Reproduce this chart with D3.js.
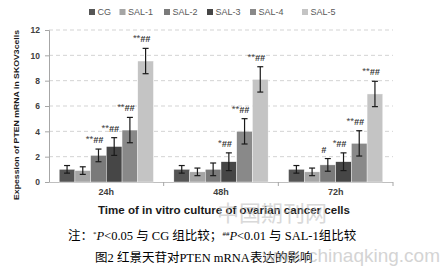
<!DOCTYPE html>
<html><head><meta charset="utf-8">
<script src="https://cdn.jsdelivr.net/npm/d3@7"></script>
<style>
html,body{margin:0;padding:0;background:#fff;}
svg{display:block;}
</style></head>
<body>
<svg id="c" width="440" height="268"></svg>
<script>
const categories = ["24h", "48h", "72h"];
const seriesNames = ["CG", "SAL-1", "SAL-2", "SAL-3", "SAL-4", "SAL-5"];
const valCG   = [1.0, 1.0, 1.0];
const valSAL1 = [0.9, 0.8, 0.8];
const valSAL2 = [2.1, 1.0, 1.35];
const valSAL3 = [2.8, 1.6, 1.6];
const valSAL4 = [4.1, 4.0, 3.05];
const valSAL5 = [9.55, 8.1, 6.95];
const errCG   = [0.3, 0.3, 0.3];
const errSAL1 = [0.3, 0.3, 0.3];
const errSAL2 = [0.5, 0.5, 0.5];
const errSAL3 = [0.7, 0.7, 0.7];
const errSAL4 = [1.0, 1.0, 1.0];
const errSAL5 = [1.0, 1.0, 1.0];
const sigCG   = ["", "", ""];
const sigSAL1 = ["", "", ""];
const sigSAL2 = ["**##", "", "#"];
const sigSAL3 = ["**##", "*##", "*##"];
const sigSAL4 = ["**##", "**##", "**##"];
const sigSAL5 = ["**##", "**##", "**##"];
const yTicks = [0, 2, 4, 6, 8, 10, 12];

const values = [valCG, valSAL1, valSAL2, valSAL3, valSAL4, valSAL5];
const errs = [errCG, errSAL1, errSAL2, errSAL3, errSAL4, errSAL5];
const sigs = [sigCG, sigSAL1, sigSAL2, sigSAL3, sigSAL4, sigSAL5];
const colors = ["#555555", "#a5a5a5", "#7a7a7a", "#464646", "#898989", "#c4c4c4"];

const svg = d3.select("#c");
const L = 49, R = 393, T = 30, B = 182;
const y = d3.scaleLinear().domain([0, 12]).range([B, T]);
const x0 = d3.scaleBand().domain(categories).range([L, R]).padding(0);
const x1 = d3.scaleBand().domain(seriesNames).range([0, x0.bandwidth()]).paddingInner(0).paddingOuter(0.65);
const color = d3.scaleOrdinal().domain(seriesNames).range(colors);

// gridlines
svg.append("g").selectAll("line").data(yTicks.filter(d => d > 0)).join("line")
  .attr("x1", L).attr("x2", R).attr("y1", d => y(d)).attr("y2", d => y(d))
  .attr("stroke", "#d3d3d3").attr("stroke-width", 1).attr("stroke-dasharray", "4,3");

// y axis
const yAxis = svg.append("g").attr("transform", `translate(${L},0)`)
  .call(d3.axisLeft(y).tickValues(yTicks).tickSize(4).tickPadding(5));
yAxis.select(".domain").attr("stroke", "#a6a6a6");
yAxis.selectAll(".tick line").attr("stroke", "#a6a6a6");
yAxis.selectAll(".tick text").attr("font-family", "Liberation Sans, Arial, sans-serif")
  .attr("font-size", 8.5).attr("font-weight", "bold").attr("fill", "#404040");

// x axis
const xAxis = svg.append("g").attr("transform", `translate(0,${B})`)
  .call(d3.axisBottom(x0).tickSize(0).tickPadding(7));
xAxis.select(".domain").attr("stroke", "#bfbfbf").attr("d", `M${L},0.5H${R}`);
xAxis.selectAll(".tick text").attr("font-family", "Liberation Sans, Arial, sans-serif")
  .attr("font-size", 9).attr("font-weight", "bold").attr("fill", "#404040");
svg.append("g").selectAll("line").data(categories.slice(1).concat([null])).join("line")
  .attr("x1", d => d ? x0(d) : R).attr("x2", d => d ? x0(d) : R)
  .attr("y1", B).attr("y2", B + 4).attr("stroke", "#a6a6a6");

// bars
const rows = [];
categories.forEach((c, ci) => seriesNames.forEach((s, si) => {
  rows.push({c, s, v: values[si][ci], e: errs[si][ci], sig: sigs[si][ci]});
}));
svg.append("g").selectAll("rect").data(rows).join("rect")
  .attr("x", d => x0(d.c) + x1(d.s)).attr("width", x1.bandwidth())
  .attr("y", d => y(d.v)).attr("height", d => y(0) - y(d.v))
  .attr("fill", d => color(d.s)).attr("stroke", "#ffffff").attr("stroke-width", 0.4);

// error bars
const eg = svg.append("g").attr("stroke", "#1a1a1a").attr("stroke-width", 1.2);
rows.forEach(d => {
  const cx = x0(d.c) + x1(d.s) + x1.bandwidth() / 2;
  const yt = y(d.v + d.e), yb = y(d.v - d.e);
  eg.append("line").attr("x1", cx).attr("x2", cx).attr("y1", yt).attr("y2", yb);
  eg.append("line").attr("x1", cx - 3).attr("x2", cx + 3).attr("y1", yt).attr("y2", yt);
  eg.append("line").attr("x1", cx - 3).attr("x2", cx + 3).attr("y1", yb).attr("y2", yb);
});

// significance labels
rows.filter(d => d.sig).forEach(d => {
  const cx = x0(d.c) + x1(d.s) + x1.bandwidth() / 2 - 4;
  const yt = y(d.v + d.e) - 6;
  const stars = d.sig.replace(/#/g, "");
  const hashes = d.sig.replace(/\*/g, "");
  const t = svg.append("text").attr("x", cx).attr("y", yt).attr("text-anchor", "middle")
    .attr("font-family", "Liberation Sans, Arial, sans-serif").attr("fill", "#333");
  if (stars) t.append("tspan").attr("font-size", 9.5).attr("dy", -1).attr("fill", "#444").text(stars);
  if (hashes) t.append("tspan").attr("font-size", 9).attr("font-style", "italic").attr("font-weight", "bold")
    .attr("dy", stars ? 1 : 0).text(hashes);
});

// legend
const legX = [89, 119.5, 164, 207, 250, 302];
const leg = svg.append("g");
seriesNames.forEach((s, i) => {
  leg.append("rect").attr("x", legX[i]).attr("y", 9).attr("width", 6).attr("height", 6).attr("fill", color(s));
  leg.append("text").attr("x", legX[i] + 8.5).attr("y", 15).attr("font-family", "Liberation Sans, Arial, sans-serif")
    .attr("font-size", 9).attr("fill", "#595959").text(s);
});

// y title
svg.append("text").attr("transform", `translate(18.5,115) rotate(-90)`).attr("text-anchor", "middle")
  .attr("font-family", "Liberation Sans, Arial, sans-serif").attr("font-size", 7.5).attr("font-weight", "bold")
  .attr("fill", "#1a1a1a").attr("textLength", 170).attr("lengthAdjust", "spacingAndGlyphs")
  .text("Expession of PTEN mRNA in SKOV3cells");

// x title
svg.append("text").attr("x", 224).attr("y", 213.5).attr("text-anchor", "middle")
  .attr("font-family", "Liberation Sans, Arial, sans-serif").attr("font-size", 10).attr("font-weight", "bold")
  .attr("fill", "#1a1a1a").attr("textLength", 252).attr("lengthAdjust", "spacingAndGlyphs")
  .text("Time of in vitro culture of ovarian cancer cells");

// watermark
svg.append("text").attr("x", 272).attr("y", 221).attr("text-anchor", "middle")
  .attr("font-family", "Noto Sans CJK SC").attr("font-size", 22).attr("fill", "#bbbbbb").attr("opacity", 0.55)
  .text("中国期刊网");

// caption
const CJK = 12.5, LAT = 12.5;
const cap1 = svg.append("text").attr("x", 68).attr("y", 240)
  .attr("font-family", "Liberation Serif, serif").attr("font-size", LAT).attr("fill", "#000");
cap1.append("tspan").attr("font-family", "Noto Sans CJK SC").attr("font-size", CJK).text("注：");
cap1.append("tspan").attr("font-size", 7).attr("dy", -4).text("*");
cap1.append("tspan").attr("font-style", "italic").attr("dy", 4).text("P");
cap1.append("tspan").text("<0.05 ");
cap1.append("tspan").attr("font-family", "Noto Sans CJK SC").attr("font-size", CJK).text("与");
cap1.append("tspan").text(" CG ");
cap1.append("tspan").attr("font-family", "Noto Sans CJK SC").attr("font-size", CJK).text("组比较；");
cap1.append("tspan").attr("font-size", 7).attr("dy", -4).text("##");
cap1.append("tspan").attr("font-style", "italic").attr("dy", 4).text("P");
cap1.append("tspan").text("<0.01 ");
cap1.append("tspan").attr("font-family", "Noto Sans CJK SC").attr("font-size", CJK).text("与");
cap1.append("tspan").text(" SAL-1");
cap1.append("tspan").attr("font-family", "Noto Sans CJK SC").attr("font-size", CJK).text("组比较");

const cap2 = svg.append("text").attr("x", 95).attr("y", 262)
  .attr("font-family", "Liberation Serif, serif").attr("font-size", LAT).attr("fill", "#000");
cap2.append("tspan").attr("font-family", "Noto Sans CJK SC").attr("font-size", CJK).text("图");
cap2.append("tspan").text("2 ");
cap2.append("tspan").attr("font-family", "Noto Sans CJK SC").attr("font-size", CJK).text("红景天苷对");
cap2.append("tspan").text("PTEN mRNA");
cap2.append("tspan").attr("font-family", "Noto Sans CJK SC").attr("font-size", CJK).text("表达的影响");

svg.append("text").attr("x", 440).attr("y", 262).attr("text-anchor", "end")
  .attr("font-family", "Liberation Sans, Arial, sans-serif").attr("font-size", 19).attr("fill", "#aaaaaa").attr("opacity", 0.5)
  .text("www.chinaqking.com");
</script>
</body></html>
